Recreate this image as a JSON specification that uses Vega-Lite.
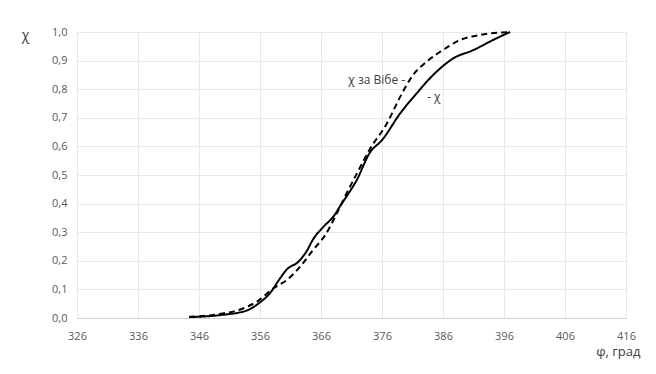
{
  "$schema": "https://vega.github.io/schema/vega-lite/v6.json",
  "autosize": "none",
  "width": 549,
  "height": 286,
  "padding": {"left": 77, "top": 32, "right": 30, "bottom": 56},
  "background": "white",
  "config": {
    "font": "Liberation Sans Narrow, Open Sans, sans-serif",
    "view": {"stroke": null},
    "axis": {"labelFont": "Liberation Sans Narrow, Open Sans, sans-serif", "titleFont": "Liberation Sans Narrow, Open Sans, sans-serif"}
  },
  "datasets": {
    "curves": [
      {"phi": 344.4, "chi": 0.003, "s": "χ"},
      {"phi": 349.4, "chi": 0.01, "s": "χ"},
      {"phi": 353.8, "chi": 0.026, "s": "χ"},
      {"phi": 355.7, "chi": 0.05, "s": "χ"},
      {"phi": 357.6, "chi": 0.086, "s": "χ"},
      {"phi": 359.3, "chi": 0.139, "s": "χ"},
      {"phi": 360.4, "chi": 0.17, "s": "χ"},
      {"phi": 362.3, "chi": 0.197, "s": "χ"},
      {"phi": 363.6, "chi": 0.232, "s": "χ"},
      {"phi": 364.7, "chi": 0.275, "s": "χ"},
      {"phi": 366.4, "chi": 0.319, "s": "χ"},
      {"phi": 368.0, "chi": 0.354, "s": "χ"},
      {"phi": 369.4, "chi": 0.4, "s": "χ"},
      {"phi": 370.5, "chi": 0.435, "s": "χ"},
      {"phi": 371.8, "chi": 0.48, "s": "χ"},
      {"phi": 374.0, "chi": 0.578, "s": "χ"},
      {"phi": 376.0, "chi": 0.622, "s": "χ"},
      {"phi": 379.0, "chi": 0.716, "s": "χ"},
      {"phi": 381.7, "chi": 0.786, "s": "χ"},
      {"phi": 384.4, "chi": 0.85, "s": "χ"},
      {"phi": 387.7, "chi": 0.908, "s": "χ"},
      {"phi": 391.0, "chi": 0.937, "s": "χ"},
      {"phi": 394.2, "chi": 0.972, "s": "χ"},
      {"phi": 397.0, "chi": 1.0, "s": "χ"},
      {"phi": 344.4, "chi": 0.004, "s": "χ за Вібе"},
      {"phi": 349.4, "chi": 0.014, "s": "χ за Вібе"},
      {"phi": 353.3, "chi": 0.034, "s": "χ за Вібе"},
      {"phi": 355.7, "chi": 0.06, "s": "χ за Вібе"},
      {"phi": 358.2, "chi": 0.104, "s": "χ за Вібе"},
      {"phi": 360.4, "chi": 0.133, "s": "χ за Вібе"},
      {"phi": 362.6, "chi": 0.18, "s": "χ за Вібе"},
      {"phi": 364.7, "chi": 0.238, "s": "χ за Вібе"},
      {"phi": 366.7, "chi": 0.29, "s": "χ за Вібе"},
      {"phi": 368.6, "chi": 0.366, "s": "χ за Вібе"},
      {"phi": 370.2, "chi": 0.436, "s": "χ за Вібе"},
      {"phi": 372.0, "chi": 0.51, "s": "χ за Вібе"},
      {"phi": 374.0, "chi": 0.59, "s": "χ за Вібе"},
      {"phi": 376.8, "chi": 0.68, "s": "χ за Вібе"},
      {"phi": 379.0, "chi": 0.774, "s": "χ за Вібе"},
      {"phi": 381.1, "chi": 0.85, "s": "χ за Вібе"},
      {"phi": 383.3, "chi": 0.896, "s": "χ за Вібе"},
      {"phi": 386.0, "chi": 0.937, "s": "χ за Вібе"},
      {"phi": 388.8, "chi": 0.972, "s": "χ за Вібе"},
      {"phi": 392.1, "chi": 0.99, "s": "χ за Вібе"},
      {"phi": 397.0, "chi": 1.0, "s": "χ за Вібе"}
    ],
    "labels": [
      {"phi": 379.8, "chi": 0.832, "text": "χ за Вібе -", "side": "right"},
      {"phi": 383.4, "chi": 0.773, "text": "- χ", "side": "left"}
    ]
  },
  "layer": [
    {
      "data": {"name": "curves"},
      "mark": {"type": "line", "interpolate": "monotone", "strokeWidth": 2, "color": "black"},
      "encoding": {
        "x": {
          "field": "phi", "type": "quantitative",
          "scale": {"domain": [326, 416], "nice": false, "zero": false},
          "axis": {
            "values": [326, 336, 346, 356, 366, 376, 386, 396, 406, 416],
            "tickCount": 20,
            "title": "φ, град",
            "titleFontSize": 13, "titleFontWeight": "normal", "titleColor": "#404040",
            "titleAnchor": null, "titleAlign": "right", "titleX": 563, "titleY": 40, "titleBaseline": "bottom",
            "labelFontSize": 11, "labelColor": "#595959", "labelPadding": 12, "labelOverlap": false,
            "ticks": false, "domainColor": "#d0d0d0", "gridColor": "#e8e8e8", "labelFlush": false
          }
        },
        "y": {
          "field": "chi", "type": "quantitative",
          "scale": {"domain": [0, 1], "nice": false},
          "axis": {
            "values": [0, 0.1, 0.2, 0.3, 0.4, 0.5, 0.6, 0.7, 0.8, 0.9, 1.0],
            "tickCount": 20,
            "labelExpr": "replace(format(datum.value, '.1f'), '.', ',')",
            "title": "χ",
            "titleAngle": 0, "titleFontSize": 14, "titleFontWeight": "normal", "titleColor": "#404040",
            "titleAnchor": null, "titleAlign": "center", "titleX": -52, "titleY": 3, "titleBaseline": "middle",
            "labelFontSize": 11, "labelColor": "#595959", "labelPadding": 10, "labelOverlap": false,
            "ticks": false, "domain": false, "gridColor": "#e8e8e8"
          }
        },
        "strokeDash": {
          "field": "s", "type": "nominal",
          "scale": {"domain": ["χ", "χ за Вібе"], "range": [[1, 0], [6, 4]]},
          "legend": null
        }
      }
    },
    {
      "data": {"name": "labels"},
      "transform": [{"filter": "datum.side === 'right'"}],
      "mark": {"type": "text", "fontSize": 12, "color": "#404040", "baseline": "middle", "align": "right"},
      "encoding": {
        "x": {"field": "phi", "type": "quantitative"},
        "y": {"field": "chi", "type": "quantitative"},
        "text": {"field": "text"}
      }
    },
    {
      "data": {"name": "labels"},
      "transform": [{"filter": "datum.side === 'left'"}],
      "mark": {"type": "text", "fontSize": 12, "color": "#404040", "baseline": "middle", "align": "left"},
      "encoding": {
        "x": {"field": "phi", "type": "quantitative"},
        "y": {"field": "chi", "type": "quantitative"},
        "text": {"field": "text"}
      }
    }
  ]
}
